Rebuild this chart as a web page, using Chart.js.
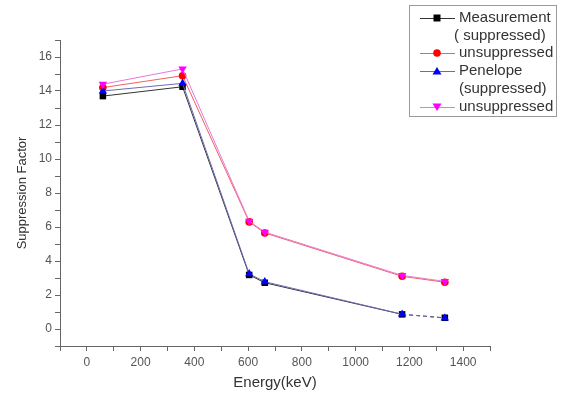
<!DOCTYPE html>
<html>
<head>
<meta charset="utf-8">
<script src="https://cdn.jsdelivr.net/npm/chart.js@4/dist/chart.umd.min.js"></script>
<style>
  html, body { margin: 0; padding: 0; background: #fff; }
  #wrap { width: 564px; height: 396px; }
</style>
</head>
<body>
<div id="wrap"><canvas id="chart" width="564" height="396"></canvas></div>
<script>
// energies (keV) and suppression factors
var energy = [59.5, 356, 604, 662, 1173, 1332];
var measSup = [13.7, 14.25, 3.18, 2.72, 0.86, 0.66];
var measUnsup = [14.2, 14.9, 6.3, 5.65, 3.1, 2.75];
var penSup = [14.0, 14.45, 3.25, 2.78, 0.87, 0.64];
var penUnsup = [14.4, 15.3, 6.35, 5.7, 3.15, 2.8];

var legendRows = ["Measurement", "( suppressed)", "unsuppressed", "Penelope", "(suppressed)", "unsuppressed"];
var legendSeries = [0, null, 1, 2, null, 3];

function pts(ys) {
  return energy.map(function (e, i) { return { x: e, y: ys[i] }; });
}

var lastDash = function (ctx) { return ctx.p1DataIndex === 5 ? [4, 3] : undefined; };

// order: lower number drawn on top, so magenta ends up over the rest
var data = {
  datasets: [
    { label: "Measurement (suppressed)", data: pts(measSup), borderColor: "#333", order: 4,
      backgroundColor: "#000", pointStyle: "rect", pointRadius: 4.6, segment: { borderDash: lastDash } },
    { label: "unsuppressed", data: pts(measUnsup), borderColor: "#f06060", order: 3,
      backgroundColor: "#ff0000", pointStyle: "circle", pointRadius: 3.8 },
    { label: "Penelope (suppressed)", data: pts(penSup), borderColor: "#6a6ab8", order: 2,
      backgroundColor: "#0000ff", pointStyle: "triangle", pointRadius: 4.8, segment: { borderDash: lastDash } },
    { label: "unsuppressed", data: pts(penUnsup), borderColor: "#e878d8", order: 1,
      backgroundColor: "#ff00ff", pointStyle: "triangle", pointRotation: 180, pointRadius: 4.8 }
  ]
};
data.datasets.forEach(function (d) {
  d.borderWidth = 1;
  d.pointBorderWidth = 0;
  d.pointBorderColor = d.backgroundColor;
  d.tension = 0;
  d.showLine = true;
});

// legend box, drawn by hand so the labels can wrap like the original
var boxLegend = {
  id: "boxLegend",
  afterDraw: function (chart) {
    var ctx = chart.ctx;
    ctx.save();
    ctx.strokeStyle = "#9a9a9a";
    ctx.lineWidth = 1;
    ctx.strokeRect(409.5, 5.5, 147, 111);
    var ys = [18, 36, 53, 71, 89, 107];
    ctx.font = "15px 'Liberation Sans', Arial, sans-serif";
    ctx.fillStyle = "#333";
    ctx.textBaseline = "middle";
    legendRows.forEach(function (txt, i) {
      var s = legendSeries[i];
      var tx = 459;
      if (txt === "( suppressed)") tx = 454;
      ctx.fillText(txt, tx, ys[i]);
      if (s === null) return;
      var ds = chart.data.datasets[s];
      ctx.strokeStyle = ds.borderColor;
      ctx.beginPath();
      ctx.moveTo(420, ys[i] + 0.5);
      ctx.lineTo(455, ys[i] + 0.5);
      ctx.stroke();
      ctx.fillStyle = ds.backgroundColor;
      var cx = 437, cy = ys[i];
      ctx.beginPath();
      if (ds.pointStyle === "rect") {
        ctx.rect(cx - 3.5, cy - 3.5, 7, 7);
      } else if (ds.pointStyle === "circle") {
        ctx.arc(cx, cy, 3.8, 0, Math.PI * 2);
      } else if (ds.pointRotation === 180) {
        ctx.moveTo(cx - 4.5, cy - 3.5); ctx.lineTo(cx + 4.5, cy - 3.5); ctx.lineTo(cx, cy + 4);
      } else {
        ctx.moveTo(cx - 4.5, cy + 3.5); ctx.lineTo(cx + 4.5, cy + 3.5); ctx.lineTo(cx, cy - 4);
      }
      ctx.closePath();
      ctx.fill();
      ctx.fillStyle = "#333";
    });
    ctx.restore();
  }
};

var tickFont = { family: "'Liberation Sans', Arial, sans-serif", size: 12 };

var options = {
  responsive: false,
  animation: false,
  layout: { padding: { top: 40, right: 74, left: 0, bottom: 0 } },
  plugins: { legend: { display: false }, tooltip: { enabled: false } },
  scales: {
    x: {
      type: "linear",
      min: -100,
      max: 1500,
      border: { color: "#666", width: 1 },
      grid: { drawOnChartArea: false, drawTicks: true, tickLength: 5, color: "#666" },
      ticks: {
        stepSize: 100,
        autoSkip: false,
        maxRotation: 0,
        padding: 4,
        color: "#555",
        font: tickFont,
        callback: function (v) { return (v >= 0 && v % 200 === 0) ? v : ""; }
      },
      title: {
        display: true,
        text: "Energy(keV)",
        color: "#333",
        font: { family: "'Liberation Sans', Arial, sans-serif", size: 15 },
        padding: { top: 0, bottom: 4 }
      },
      afterFit: function (scale) { scale.height = 50; }
    },
    y: {
      type: "linear",
      min: -1,
      max: 17,
      border: { color: "#666", width: 1 },
      grid: { drawOnChartArea: false, drawTicks: true, tickLength: 5, color: "#666" },
      ticks: {
        stepSize: 1,
        autoSkip: false,
        padding: 3,
        color: "#555",
        font: tickFont,
        callback: function (v) { return (v >= 0 && v <= 16 && v % 2 === 0) ? v : ""; }
      },
      title: {
        display: true,
        text: "Suppression Factor",
        color: "#333",
        font: { family: "'Liberation Sans', Arial, sans-serif", size: 13 },
        padding: { top: 15, bottom: 0 }
      },
      afterFit: function (scale) { scale.width = 60; }
    }
  }
};

var chart = new Chart(document.getElementById("chart"), {
  type: "scatter",
  data: data,
  options: options,
  plugins: [boxLegend]
});
</script>
</body>
</html>
